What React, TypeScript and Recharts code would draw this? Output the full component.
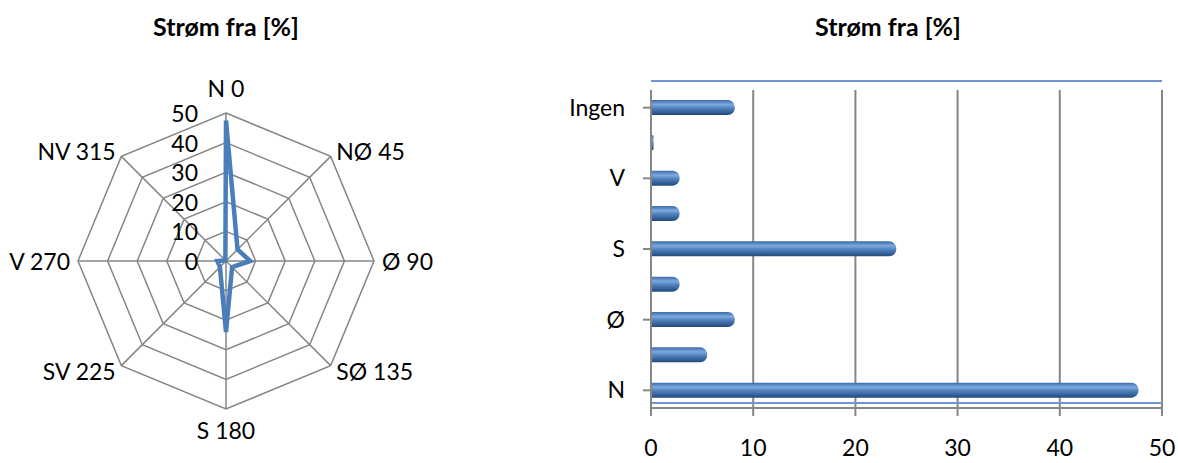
import React from 'react';
import {
  RadarChart,
  Radar,
  PolarGrid,
  PolarAngleAxis,
  PolarRadiusAxis,
  BarChart,
  Bar,
  XAxis,
  YAxis,
  CartesianGrid,
} from 'recharts';

// radar: direction the current comes from
const radarLabels = ['N 0', 'NØ 45', 'Ø 90', 'SØ 135', 'S 180', 'SV 225', 'V 270', 'NV 315'];
const radarValues = [47.5, 5.5, 8.2, 2.9, 24, 2.9, 2.9, 0.3];
const radarTicks = [0, 10, 20, 30, 40, 50];

// bars: same directions plus "Ingen"
const barCategories = ['N', 'NØ', 'Ø', 'SØ', 'S', 'SV', 'V', 'NV', 'Ingen'];
const barValues = [47.7, 5.5, 8.2, 2.8, 24, 2.8, 2.8, 0.25, 8.2];
const xTicks = [0, 10, 20, 30, 40, 50];

const radarData = radarLabels.map((name, i) => ({ name, value: radarValues[i] }));
const barData = barCategories.map((name, i) => ({ name, value: barValues[i] }));

const FONT = 'Lato, "Open Sans", sans-serif';
const GRAY = '#868686';
const BLUE = '#4A7EBB';
const CX = 226;
const CY = 261;
const LABEL_SIZE = 23;

const titleStyle: React.CSSProperties = {
  position: 'absolute',
  top: 11,
  fontFamily: FONT,
  fontWeight: 700,
  fontSize: 25,
  color: '#000',
  textAlign: 'center',
  width: 300,
};

const AngleTick = (props: any) => {
  const { x, y, payload, textAnchor } = props;
  let dy = 0;
  if (textAnchor === 'middle') dy = y < CY ? -17 : 13;
  return (
    <text x={x} y={y + dy} textAnchor={textAnchor} dominantBaseline="central" fontSize={LABEL_SIZE} fontFamily={FONT} fill="#000">
      {payload.value}
    </text>
  );
};

const RadiusTick = (props: any) => {
  const { x, y, payload } = props;
  return (
    <text x={x - 28} y={y} textAnchor="end" dominantBaseline="central" fontSize={LABEL_SIZE} fontFamily={FONT} fill="#000">
      {payload.value}
    </text>
  );
};

export default function App() {
  return (
    <div style={{ position: 'absolute', left: 0, top: 0, width: 1178, height: 463, background: '#fff', fontFamily: FONT }}>
      <div style={{ ...titleStyle, left: 76 }}>Strøm fra [%]</div>
      <div style={{ ...titleStyle, left: 738 }}>Strøm fra [%]</div>

      <div style={{ position: 'absolute', left: 0, top: 0 }}>
        <RadarChart width={450} height={463} cx={CX} cy={CY} outerRadius={148} data={radarData}>
          <PolarGrid gridType="polygon" stroke={GRAY} strokeWidth={1.5} />
          <PolarAngleAxis dataKey="name" axisLine={false} tickLine={false} tick={<AngleTick />} />
          <PolarRadiusAxis
            angle={90}
            domain={[0, 50]}
            ticks={radarTicks as any}
            tickCount={6}
            axisLine={false}
            tickLine={false}
            tick={<RadiusTick />}
          />
          <Radar
            dataKey="value"
            stroke={BLUE}
            strokeWidth={4.5}
            fill="none"
            fillOpacity={0}
            dot={false}
            isAnimationActive={false}
          />
        </RadarChart>
      </div>

      <div style={{ position: 'absolute', left: 540, top: 0 }}>
        <BarChart
          width={638}
          height={463}
          data={barData}
          layout="vertical"
          margin={{ top: 90, right: 16, bottom: 0, left: 0 }}
          barSize={15}
        >
          <defs>
            <linearGradient id="cyl" x1="0" y1="0" x2="0" y2="1">
              <stop offset="0%" stopColor="#3c6aa6" />
              <stop offset="30%" stopColor="#7ea9df" />
              <stop offset="55%" stopColor="#4f81bd" />
              <stop offset="100%" stopColor="#22497a" />
            </linearGradient>
          </defs>
          <CartesianGrid horizontal={false} stroke={GRAY} strokeWidth={2} />
          <CartesianGrid vertical={false} horizontalPoints={[81, 403]} stroke="#6f96cf" strokeWidth={2} />
          <XAxis
            type="number"
            domain={[0, 50]}
            ticks={xTicks}
            axisLine={{ stroke: GRAY, strokeWidth: 2 }}
            tickLine={{ stroke: GRAY, strokeWidth: 2 }}
            tickSize={8}
            tickMargin={24}
            height={55}
            tick={{ fontSize: LABEL_SIZE, fontFamily: FONT, fill: '#000' }}
          />
          <YAxis
            type="category"
            dataKey="name"
            reversed
            interval={1}
            width={111}
            axisLine={{ stroke: GRAY, strokeWidth: 2 }}
            tickLine={{ stroke: GRAY, strokeWidth: 2 }}
            tickSize={8}
            tickMargin={18}
            tick={{ fontSize: LABEL_SIZE, fontFamily: FONT, fill: '#000' }}
          />
          <Bar dataKey="value" fill="url(#cyl)" radius={[0, 7, 7, 0]} isAnimationActive={false} />
        </BarChart>
      </div>
    </div>
  );
}
